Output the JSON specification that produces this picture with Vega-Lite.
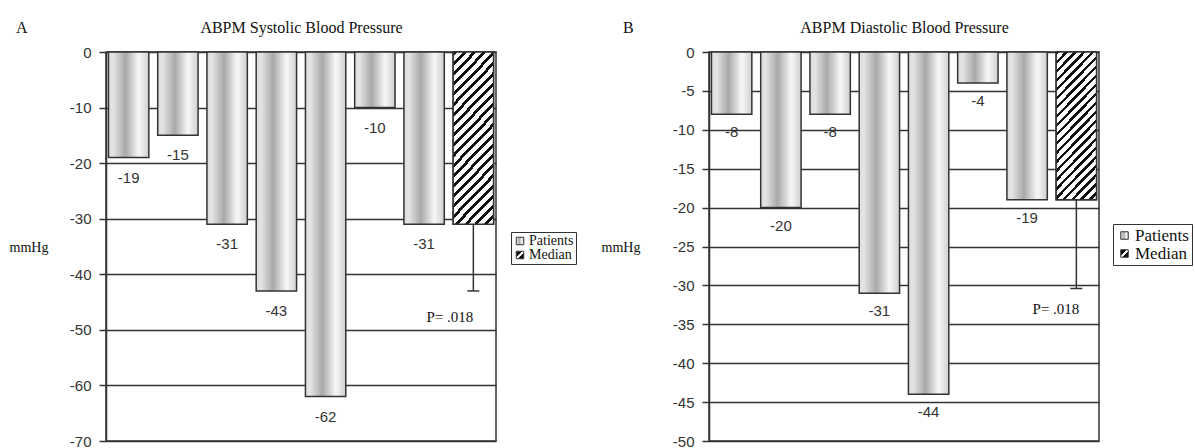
{
  "$schema": "https://vega.github.io/schema/vega-lite/v6.json",
  "background": "white",
  "padding": {"left": 8, "top": 18, "right": 2, "bottom": 0},
  "spacing": 22,
  "resolve": {"scale": {"fill": "independent"}, "legend": {"fill": "independent"}},
  "config": {
    "view": {"stroke": "#333", "strokeWidth": 1.5},
    "axisY": {"labelFont": "Liberation Sans", "labelFontSize": 15, "labelColor": "#333", "tickColor": "#333", "tickSize": 7, "tickWidth": 1.5, "domainColor": "#333", "domainWidth": 1.5, "gridColor": "#333", "gridWidth": 1.3, "gridOpacity": 1, "labelPadding": 8, "titleFont": "Liberation Serif", "titleFontSize": 14, "titleFontWeight": "normal", "titleColor": "#111", "titleAngle": 0, "titleAlign": "left", "titleBaseline": "middle", "labelExpr": "datum.value + ''"},
    "axisX": {"labels": false, "ticks": false, "domain": false, "grid": false, "titleFont": "Liberation Serif", "titleFontSize": 16, "titleFontWeight": "normal", "titleColor": "#111", "titleBaseline": "alphabetic", "titlePadding": 20},
    "legend": {"labelFont": "Liberation Serif", "labelColor": "#111", "strokeColor": "#333", "padding": 2, "rowPadding": 0, "symbolType": "square", "symbolSize": 56, "symbolStrokeColor": "#333", "symbolStrokeWidth": 1, "labelOffset": 2, "title": null},
    "title": {"font": "Liberation Serif", "fontSize": 16, "fontWeight": "normal", "color": "#111", "anchor": "start", "frame": "bounds", "baseline": "alphabetic"}
  },
  "hconcat": [
    {
      "width": 390,
      "height": 389,
      "title": {"text": "A", "offset": -17, "dx": 7},
      "data": {"values": [
        {"cat": "P1", "value": -19, "group": "Patients"},
        {"cat": "P2", "value": -15, "group": "Patients"},
        {"cat": "P3", "value": -31, "group": "Patients"},
        {"cat": "P4", "value": -43, "group": "Patients"},
        {"cat": "P5", "value": -62, "group": "Patients"},
        {"cat": "P6", "value": -10, "group": "Patients"},
        {"cat": "P7", "value": -31, "group": "Patients"},
        {"cat": "Median", "value": -31, "group": "Median", "err": -43, "pY": -47.7, "pText": "P= .018"}
      ]},
      "encoding": {
        "x": {"field": "cat", "type": "nominal", "sort": null, "scale": {"paddingInner": 0.18, "paddingOuter": 0.05}, "axis": {"orient": "top", "title": "ABPM Systolic Blood Pressure"}}
      },
      "layer": [
        {
          "mark": {"type": "bar", "stroke": "#333", "strokeWidth": 1.5},
          "encoding": {
            "y": {"field": "value", "type": "quantitative", "title": "mmHg", "scale": {"domain": [-70, 0], "nice": false}, "axis": {"values": [-70, -60, -50, -40, -30, -20, -10, 0], "titleX": -97, "titleY": 195}},
            "fill": {"field": "group", "type": "nominal", "scale": {"domain": ["Patients", "Median"], "range": [
              {"expr": "{gradient:'linear',x1:0,y1:0,x2:1,y2:0,stops:[{offset:0,color:'#dcdcdc'},{offset:0.12,color:'#e4e4e4'},{offset:0.42,color:'#a9a9a9'},{offset:0.75,color:'#f7f7f7'},{offset:1,color:'#cfcfcf'}]}"},
              {"expr": "{gradient:'linear',x1:0,y1:0,x2:1,y2:1,stops:[{offset:0,color:'#111'},{offset:0.4,color:'#111'},{offset:0.4,color:'#fff'},{offset:0.6,color:'#fff'},{offset:0.6,color:'#111'},{offset:1,color:'#111'}]}"}
            ]}, "legend": {"orient": "none", "legendX": 405, "legendY": 180, "labelFontSize": 14}}
          }
        },
        {
          "transform": [{"filter": "datum.group === 'Median'"}],
          "mark": {"type": "bar", "stroke": "#333", "strokeWidth": 1.5, "fill": {"gradient": "linear", "x1": 0, "y1": 0, "x2": 0.284, "y2": 1.173, "stops": [
{"offset":0,"color":"#111"},{"offset":0.019,"color":"#111"},{"offset":0.019,"color":"#fff"},{"offset":0.0476,"color":"#fff"},
{"offset":0.0476,"color":"#111"},{"offset":0.0667,"color":"#111"},{"offset":0.0667,"color":"#fff"},{"offset":0.0952,"color":"#fff"},
{"offset":0.0952,"color":"#111"},{"offset":0.1143,"color":"#111"},{"offset":0.1143,"color":"#fff"},{"offset":0.1429,"color":"#fff"},
{"offset":0.1429,"color":"#111"},{"offset":0.1619,"color":"#111"},{"offset":0.1619,"color":"#fff"},{"offset":0.1905,"color":"#fff"},
{"offset":0.1905,"color":"#111"},{"offset":0.2095,"color":"#111"},{"offset":0.2095,"color":"#fff"},{"offset":0.2381,"color":"#fff"},
{"offset":0.2381,"color":"#111"},{"offset":0.2571,"color":"#111"},{"offset":0.2571,"color":"#fff"},{"offset":0.2857,"color":"#fff"},
{"offset":0.2857,"color":"#111"},{"offset":0.3048,"color":"#111"},{"offset":0.3048,"color":"#fff"},{"offset":0.3333,"color":"#fff"},
{"offset":0.3333,"color":"#111"},{"offset":0.3524,"color":"#111"},{"offset":0.3524,"color":"#fff"},{"offset":0.381,"color":"#fff"},
{"offset":0.381,"color":"#111"},{"offset":0.4,"color":"#111"},{"offset":0.4,"color":"#fff"},{"offset":0.4286,"color":"#fff"},
{"offset":0.4286,"color":"#111"},{"offset":0.4476,"color":"#111"},{"offset":0.4476,"color":"#fff"},{"offset":0.4762,"color":"#fff"},
{"offset":0.4762,"color":"#111"},{"offset":0.4952,"color":"#111"},{"offset":0.4952,"color":"#fff"},{"offset":0.5238,"color":"#fff"},
{"offset":0.5238,"color":"#111"},{"offset":0.5429,"color":"#111"},{"offset":0.5429,"color":"#fff"},{"offset":0.5714,"color":"#fff"},
{"offset":0.5714,"color":"#111"},{"offset":0.5905,"color":"#111"},{"offset":0.5905,"color":"#fff"},{"offset":0.619,"color":"#fff"},
{"offset":0.619,"color":"#111"},{"offset":0.6381,"color":"#111"},{"offset":0.6381,"color":"#fff"},{"offset":0.6667,"color":"#fff"},
{"offset":0.6667,"color":"#111"},{"offset":0.6857,"color":"#111"},{"offset":0.6857,"color":"#fff"},{"offset":0.7143,"color":"#fff"},
{"offset":0.7143,"color":"#111"},{"offset":0.7333,"color":"#111"},{"offset":0.7333,"color":"#fff"},{"offset":0.7619,"color":"#fff"},
{"offset":0.7619,"color":"#111"},{"offset":0.781,"color":"#111"},{"offset":0.781,"color":"#fff"},{"offset":0.8095,"color":"#fff"},
{"offset":0.8095,"color":"#111"},{"offset":0.8286,"color":"#111"},{"offset":0.8286,"color":"#fff"},{"offset":0.8571,"color":"#fff"},
{"offset":0.8571,"color":"#111"},{"offset":0.8762,"color":"#111"},{"offset":0.8762,"color":"#fff"},{"offset":0.9048,"color":"#fff"},
{"offset":0.9048,"color":"#111"},{"offset":0.9238,"color":"#111"},{"offset":0.9238,"color":"#fff"},{"offset":0.9524,"color":"#fff"},
{"offset":0.9524,"color":"#111"},{"offset":0.9714,"color":"#111"},{"offset":0.9714,"color":"#fff"},{"offset":1,"color":"#fff"}
          ]}},
          "encoding": {"y": {"field": "value", "type": "quantitative", "title": "mmHg", "axis": {"values": [-70, -60, -50, -40, -30, -20, -10, 0], "titleX": -97, "titleY": 195}}}
        },
        {
          "transform": [{"filter": "datum.group === 'Median'"}],
          "mark": {"type": "rule", "color": "#333", "strokeWidth": 1.5},
          "encoding": {"y": {"field": "value", "type": "quantitative", "title": "mmHg", "axis": {"values": [-70, -60, -50, -40, -30, -20, -10, 0], "titleX": -97, "titleY": 195}}, "y2": {"field": "err"}}
        },
        {
          "transform": [{"filter": "datum.group === 'Median'"}],
          "mark": {"type": "tick", "color": "#333", "size": 12, "thickness": 1.5, "opacity": 1},
          "encoding": {"y": {"field": "err", "type": "quantitative", "title": "mmHg", "axis": {"values": [-70, -60, -50, -40, -30, -20, -10, 0], "titleX": -97, "titleY": 195}}}
        },
        {
          "transform": [{"filter": "datum.group === 'Patients'"}],
          "mark": {"type": "text", "font": "Liberation Sans", "fontSize": 15, "color": "#333", "baseline": "middle", "dy": 20},
          "encoding": {"y": {"field": "value", "type": "quantitative", "title": "mmHg", "axis": {"values": [-70, -60, -50, -40, -30, -20, -10, 0], "titleX": -97, "titleY": 195}}, "text": {"field": "value", "type": "nominal"}}
        },
        {
          "transform": [{"filter": "datum.group === 'Median'"}],
          "mark": {"type": "text", "font": "Liberation Serif", "fontSize": 15, "color": "#111", "align": "right", "baseline": "middle", "dx": 0},
          "encoding": {"y": {"field": "pY", "type": "quantitative", "title": "mmHg", "axis": {"values": [-70, -60, -50, -40, -30, -20, -10, 0], "titleX": -97, "titleY": 195}}, "text": {"field": "pText", "type": "nominal"}}
        }
      ]
    },
    {
      "width": 390,
      "height": 389,
      "title": {"text": "B", "offset": -17, "dx": 22},
      "data": {"values": [
        {"cat": "P1", "value": -8, "group": "Patients"},
        {"cat": "P2", "value": -20, "group": "Patients"},
        {"cat": "P3", "value": -8, "group": "Patients"},
        {"cat": "P4", "value": -31, "group": "Patients"},
        {"cat": "P5", "value": -44, "group": "Patients"},
        {"cat": "P6", "value": -4, "group": "Patients"},
        {"cat": "P7", "value": -19, "group": "Patients"},
        {"cat": "Median", "value": -19, "group": "Median", "err": -30.4, "pY": -33, "pText": "P= .018"}
      ]},
      "encoding": {
        "x": {"field": "cat", "type": "nominal", "sort": null, "scale": {"paddingInner": 0.18, "paddingOuter": 0.05}, "axis": {"orient": "top", "title": "ABPM Diastolic Blood Pressure"}}
      },
      "layer": [
        {
          "mark": {"type": "bar", "stroke": "#333", "strokeWidth": 1.5},
          "encoding": {
            "y": {"field": "value", "type": "quantitative", "title": "mmHg", "scale": {"domain": [-50, 0], "nice": false}, "axis": {"values": [-50, -45, -40, -35, -30, -25, -20, -15, -10, -5, 0], "titleX": -108, "titleY": 195}},
            "fill": {"field": "group", "type": "nominal", "scale": {"domain": ["Patients", "Median"], "range": [
              {"expr": "{gradient:'linear',x1:0,y1:0,x2:1,y2:0,stops:[{offset:0,color:'#dcdcdc'},{offset:0.12,color:'#e4e4e4'},{offset:0.42,color:'#a9a9a9'},{offset:0.75,color:'#f7f7f7'},{offset:1,color:'#cfcfcf'}]}"},
              {"expr": "{gradient:'linear',x1:0,y1:0,x2:1,y2:1,stops:[{offset:0,color:'#111'},{offset:0.4,color:'#111'},{offset:0.4,color:'#fff'},{offset:0.6,color:'#fff'},{offset:0.6,color:'#111'},{offset:1,color:'#111'}]}"}
            ]}, "legend": {"orient": "none", "legendX": 404, "legendY": 172, "labelFontSize": 17, "padding": 3}}
          }
        },
        {
          "transform": [{"filter": "datum.group === 'Median'"}],
          "mark": {"type": "bar", "stroke": "#333", "strokeWidth": 1.5, "fill": {"gradient": "linear", "x1": 0, "y1": 0, "x2": 0.335, "y2": 1.188, "stops": [
{"offset":0,"color":"#111"},{"offset":0.019,"color":"#111"},{"offset":0.019,"color":"#fff"},{"offset":0.0476,"color":"#fff"},
{"offset":0.0476,"color":"#111"},{"offset":0.0667,"color":"#111"},{"offset":0.0667,"color":"#fff"},{"offset":0.0952,"color":"#fff"},
{"offset":0.0952,"color":"#111"},{"offset":0.1143,"color":"#111"},{"offset":0.1143,"color":"#fff"},{"offset":0.1429,"color":"#fff"},
{"offset":0.1429,"color":"#111"},{"offset":0.1619,"color":"#111"},{"offset":0.1619,"color":"#fff"},{"offset":0.1905,"color":"#fff"},
{"offset":0.1905,"color":"#111"},{"offset":0.2095,"color":"#111"},{"offset":0.2095,"color":"#fff"},{"offset":0.2381,"color":"#fff"},
{"offset":0.2381,"color":"#111"},{"offset":0.2571,"color":"#111"},{"offset":0.2571,"color":"#fff"},{"offset":0.2857,"color":"#fff"},
{"offset":0.2857,"color":"#111"},{"offset":0.3048,"color":"#111"},{"offset":0.3048,"color":"#fff"},{"offset":0.3333,"color":"#fff"},
{"offset":0.3333,"color":"#111"},{"offset":0.3524,"color":"#111"},{"offset":0.3524,"color":"#fff"},{"offset":0.381,"color":"#fff"},
{"offset":0.381,"color":"#111"},{"offset":0.4,"color":"#111"},{"offset":0.4,"color":"#fff"},{"offset":0.4286,"color":"#fff"},
{"offset":0.4286,"color":"#111"},{"offset":0.4476,"color":"#111"},{"offset":0.4476,"color":"#fff"},{"offset":0.4762,"color":"#fff"},
{"offset":0.4762,"color":"#111"},{"offset":0.4952,"color":"#111"},{"offset":0.4952,"color":"#fff"},{"offset":0.5238,"color":"#fff"},
{"offset":0.5238,"color":"#111"},{"offset":0.5429,"color":"#111"},{"offset":0.5429,"color":"#fff"},{"offset":0.5714,"color":"#fff"},
{"offset":0.5714,"color":"#111"},{"offset":0.5905,"color":"#111"},{"offset":0.5905,"color":"#fff"},{"offset":0.619,"color":"#fff"},
{"offset":0.619,"color":"#111"},{"offset":0.6381,"color":"#111"},{"offset":0.6381,"color":"#fff"},{"offset":0.6667,"color":"#fff"},
{"offset":0.6667,"color":"#111"},{"offset":0.6857,"color":"#111"},{"offset":0.6857,"color":"#fff"},{"offset":0.7143,"color":"#fff"},
{"offset":0.7143,"color":"#111"},{"offset":0.7333,"color":"#111"},{"offset":0.7333,"color":"#fff"},{"offset":0.7619,"color":"#fff"},
{"offset":0.7619,"color":"#111"},{"offset":0.781,"color":"#111"},{"offset":0.781,"color":"#fff"},{"offset":0.8095,"color":"#fff"},
{"offset":0.8095,"color":"#111"},{"offset":0.8286,"color":"#111"},{"offset":0.8286,"color":"#fff"},{"offset":0.8571,"color":"#fff"},
{"offset":0.8571,"color":"#111"},{"offset":0.8762,"color":"#111"},{"offset":0.8762,"color":"#fff"},{"offset":0.9048,"color":"#fff"},
{"offset":0.9048,"color":"#111"},{"offset":0.9238,"color":"#111"},{"offset":0.9238,"color":"#fff"},{"offset":0.9524,"color":"#fff"},
{"offset":0.9524,"color":"#111"},{"offset":0.9714,"color":"#111"},{"offset":0.9714,"color":"#fff"},{"offset":1,"color":"#fff"}
          ]}},
          "encoding": {"y": {"field": "value", "type": "quantitative", "title": "mmHg", "axis": {"values": [-50, -45, -40, -35, -30, -25, -20, -15, -10, -5, 0], "titleX": -108, "titleY": 195}}}
        },
        {
          "transform": [{"filter": "datum.group === 'Median'"}],
          "mark": {"type": "rule", "color": "#333", "strokeWidth": 1.5},
          "encoding": {"y": {"field": "value", "type": "quantitative", "title": "mmHg", "axis": {"values": [-50, -45, -40, -35, -30, -25, -20, -15, -10, -5, 0], "titleX": -108, "titleY": 195}}, "y2": {"field": "err"}}
        },
        {
          "transform": [{"filter": "datum.group === 'Median'"}],
          "mark": {"type": "tick", "color": "#333", "size": 12, "thickness": 1.5, "opacity": 1},
          "encoding": {"y": {"field": "err", "type": "quantitative", "title": "mmHg", "axis": {"values": [-50, -45, -40, -35, -30, -25, -20, -15, -10, -5, 0], "titleX": -108, "titleY": 195}}}
        },
        {
          "transform": [{"filter": "datum.group === 'Patients'"}],
          "mark": {"type": "text", "font": "Liberation Sans", "fontSize": 15, "color": "#333", "baseline": "middle", "dy": 18},
          "encoding": {"y": {"field": "value", "type": "quantitative", "title": "mmHg", "axis": {"values": [-50, -45, -40, -35, -30, -25, -20, -15, -10, -5, 0], "titleX": -108, "titleY": 195}}, "text": {"field": "value", "type": "nominal"}}
        },
        {
          "transform": [{"filter": "datum.group === 'Median'"}],
          "mark": {"type": "text", "font": "Liberation Serif", "fontSize": 15, "color": "#111", "align": "right", "baseline": "middle", "dx": 3},
          "encoding": {"y": {"field": "pY", "type": "quantitative", "title": "mmHg", "axis": {"values": [-50, -45, -40, -35, -30, -25, -20, -15, -10, -5, 0], "titleX": -108, "titleY": 195}}, "text": {"field": "pText", "type": "nominal"}}
        }
      ]
    }
  ]
}
